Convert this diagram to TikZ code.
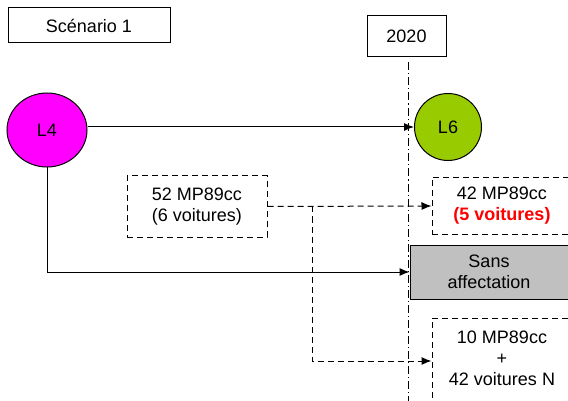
\documentclass[tikz,border=0pt]{standalone}
\usepackage{fontspec}
\setmainfont{Liberation Sans}
\usetikzlibrary{arrows.meta,shapes.geometric}
\definecolor{lsix}{HTML}{99CC00}
\definecolor{lfour}{HTML}{FF00FF}
\definecolor{sansgray}{HTML}{C0C0C0}
\begin{document}
\begin{tikzpicture}[x=1pt,y=-1pt,
  font=\fontsize{18}{21}\selectfont,
  box/.style={draw, line width=1pt, inner sep=0pt, align=center},
  dbox/.style={box, dash pattern=on 6pt off 4pt},
  circnode/.style={draw, line width=1pt, ellipse, inner sep=0pt},
  solidarrow/.style={line width=1pt, -{Latex[length=10pt,width=8pt]}},
  dasharrow/.style={line width=1pt, dash pattern=on 6pt off 4pt, -{Latex[length=10pt,width=8pt]}},
  dashline/.style={line width=1pt, dash pattern=on 6pt off 4pt},
  dashdotline/.style={line width=0.9pt, dash pattern=on 8pt off 3pt on 1.2pt off 3pt}
]
\clip (0,0) rectangle (568,401);
\fill[white] (0,0) rectangle (568,401);

\node[box, minimum width=162pt, minimum height=35pt] (scen) at (89,25.5) {Scénario 1};
\node[box, minimum width=79pt, minimum height=41pt] (y2020) at (406.5,36.5) {2020};

\coordinate (vtop) at (408,62);
\coordinate (vbot) at (408,405);
\draw[dashdotline] (vtop) -- (vbot);

\node[circnode, fill=lfour, minimum width=80pt, minimum height=74pt] (L4) at (47,130) {L4};
\node[circnode, fill=lsix, minimum width=67pt, minimum height=67pt] (L6) at (448,127) {L6};

\node[box, fill=sansgray, minimum width=158pt, minimum height=54pt] (sans) at (489,272) {Sans\\affectation};

\node[dbox, minimum width=140pt, minimum height=61pt] (b52) at (197,206.5) {52 MP89cc\\(6 voitures)};
\node[dbox, minimum width=140pt, minimum height=57pt] (b42) at (502,206) {42 MP89cc\\\textcolor{red}{\bfseries (5 voitures)}};
\node[dbox, minimum width=140pt, minimum height=86pt] (b10) at (502,361) {};
\node[align=center, inner sep=0pt] (t10) at (502,358) {10 MP89cc\\+\\42 voitures N};

\draw[solidarrow] (L4.east|-L6.west) -- (L6.west);
\draw[solidarrow] (L4.south) |- (sans.west);

\coordinate (br) at (312,206.5);
\draw[dasharrow] (b52.east) -- (b42.west);
\draw[dasharrow] (br) |- (b10.west);
\end{tikzpicture}
\end{document}
